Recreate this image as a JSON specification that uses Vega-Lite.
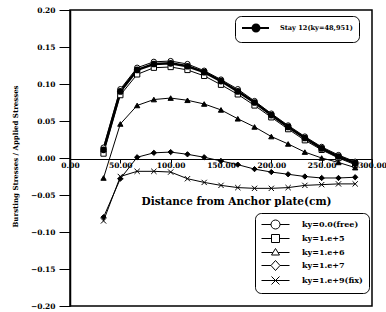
{
  "$schema": "https://vega.github.io/schema/vega-lite/v6.json",
  "width": 302,
  "height": 296,
  "autosize": "none",
  "padding": {"left": 70, "top": 10, "right": 14, "bottom": 6},
  "background": "white",
  "config": {
    "view": {"stroke": "black", "strokeWidth": 1.5},
    "axis": {
      "grid": false,
      "labelFont": "DejaVu Serif",
      "labelFontWeight": "bold",
      "labelFontSize": 7.5,
      "labelColor": "black",
      "titleFont": "DejaVu Serif",
      "titleFontWeight": "bold",
      "titleColor": "black",
      "domainColor": "black",
      "tickColor": "black"
    },
    "legend": {
      "labelFont": "DejaVu Serif",
      "labelFontWeight": "bold",
      "labelFontSize": 7.5,
      "labelColor": "black",
      "strokeColor": "black",
      "cornerRadius": 6,
      "fillColor": "white"
    }
  },
  "data": {
    "values": [
      {"s": "ky=0.0(free)", "x": 33.3, "y": 0.014},
      {"s": "ky=0.0(free)", "x": 50, "y": 0.093},
      {"s": "ky=0.0(free)", "x": 66.7, "y": 0.122},
      {"s": "ky=0.0(free)", "x": 83.3, "y": 0.130},
      {"s": "ky=0.0(free)", "x": 100, "y": 0.131},
      {"s": "ky=0.0(free)", "x": 116.7, "y": 0.127},
      {"s": "ky=0.0(free)", "x": 133.3, "y": 0.118},
      {"s": "ky=0.0(free)", "x": 150, "y": 0.106},
      {"s": "ky=0.0(free)", "x": 166.7, "y": 0.093},
      {"s": "ky=0.0(free)", "x": 183.3, "y": 0.077},
      {"s": "ky=0.0(free)", "x": 200, "y": 0.060},
      {"s": "ky=0.0(free)", "x": 216.7, "y": 0.044},
      {"s": "ky=0.0(free)", "x": 233.3, "y": 0.029},
      {"s": "ky=0.0(free)", "x": 250, "y": 0.015},
      {"s": "ky=0.0(free)", "x": 266.7, "y": 0.004},
      {"s": "ky=0.0(free)", "x": 283.3, "y": -0.005},
      {"s": "ky=1.e+5", "x": 33.3, "y": 0.006},
      {"s": "ky=1.e+5", "x": 50, "y": 0.085},
      {"s": "ky=1.e+5", "x": 66.7, "y": 0.113},
      {"s": "ky=1.e+5", "x": 83.3, "y": 0.122},
      {"s": "ky=1.e+5", "x": 100, "y": 0.123},
      {"s": "ky=1.e+5", "x": 116.7, "y": 0.119},
      {"s": "ky=1.e+5", "x": 133.3, "y": 0.111},
      {"s": "ky=1.e+5", "x": 150, "y": 0.099},
      {"s": "ky=1.e+5", "x": 166.7, "y": 0.086},
      {"s": "ky=1.e+5", "x": 183.3, "y": 0.071},
      {"s": "ky=1.e+5", "x": 200, "y": 0.055},
      {"s": "ky=1.e+5", "x": 216.7, "y": 0.039},
      {"s": "ky=1.e+5", "x": 233.3, "y": 0.024},
      {"s": "ky=1.e+5", "x": 250, "y": 0.011},
      {"s": "ky=1.e+5", "x": 266.7, "y": 0.000},
      {"s": "ky=1.e+5", "x": 283.3, "y": -0.009},
      {"s": "ky=1.e+6", "x": 33.3, "y": -0.027},
      {"s": "ky=1.e+6", "x": 50, "y": 0.046},
      {"s": "ky=1.e+6", "x": 66.7, "y": 0.071},
      {"s": "ky=1.e+6", "x": 83.3, "y": 0.079},
      {"s": "ky=1.e+6", "x": 100, "y": 0.081},
      {"s": "ky=1.e+6", "x": 116.7, "y": 0.078},
      {"s": "ky=1.e+6", "x": 133.3, "y": 0.073},
      {"s": "ky=1.e+6", "x": 150, "y": 0.065},
      {"s": "ky=1.e+6", "x": 166.7, "y": 0.053},
      {"s": "ky=1.e+6", "x": 183.3, "y": 0.042},
      {"s": "ky=1.e+6", "x": 200, "y": 0.029},
      {"s": "ky=1.e+6", "x": 216.7, "y": 0.019},
      {"s": "ky=1.e+6", "x": 233.3, "y": 0.008},
      {"s": "ky=1.e+6", "x": 250, "y": 0.000},
      {"s": "ky=1.e+6", "x": 266.7, "y": -0.006},
      {"s": "ky=1.e+6", "x": 283.3, "y": -0.013},
      {"s": "ky=1.e+7", "x": 33.3, "y": -0.080},
      {"s": "ky=1.e+7", "x": 50, "y": -0.028},
      {"s": "ky=1.e+7", "x": 66.7, "y": 0.001},
      {"s": "ky=1.e+7", "x": 83.3, "y": 0.007},
      {"s": "ky=1.e+7", "x": 100, "y": 0.008},
      {"s": "ky=1.e+7", "x": 116.7, "y": 0.005},
      {"s": "ky=1.e+7", "x": 133.3, "y": 0.001},
      {"s": "ky=1.e+7", "x": 150, "y": -0.004},
      {"s": "ky=1.e+7", "x": 166.7, "y": -0.009},
      {"s": "ky=1.e+7", "x": 183.3, "y": -0.015},
      {"s": "ky=1.e+7", "x": 200, "y": -0.019},
      {"s": "ky=1.e+7", "x": 216.7, "y": -0.022},
      {"s": "ky=1.e+7", "x": 233.3, "y": -0.025},
      {"s": "ky=1.e+7", "x": 250, "y": -0.027},
      {"s": "ky=1.e+7", "x": 266.7, "y": -0.027},
      {"s": "ky=1.e+7", "x": 283.3, "y": -0.026},
      {"s": "ky=1.e+9(fix)", "x": 33.3, "y": -0.085},
      {"s": "ky=1.e+9(fix)", "x": 50, "y": -0.025},
      {"s": "ky=1.e+9(fix)", "x": 66.7, "y": -0.018},
      {"s": "ky=1.e+9(fix)", "x": 83.3, "y": -0.018},
      {"s": "ky=1.e+9(fix)", "x": 100, "y": -0.019},
      {"s": "ky=1.e+9(fix)", "x": 116.7, "y": -0.028},
      {"s": "ky=1.e+9(fix)", "x": 133.3, "y": -0.033},
      {"s": "ky=1.e+9(fix)", "x": 150, "y": -0.037},
      {"s": "ky=1.e+9(fix)", "x": 166.7, "y": -0.040},
      {"s": "ky=1.e+9(fix)", "x": 183.3, "y": -0.041},
      {"s": "ky=1.e+9(fix)", "x": 200, "y": -0.041},
      {"s": "ky=1.e+9(fix)", "x": 216.7, "y": -0.040},
      {"s": "ky=1.e+9(fix)", "x": 233.3, "y": -0.037},
      {"s": "ky=1.e+9(fix)", "x": 250, "y": -0.036},
      {"s": "ky=1.e+9(fix)", "x": 266.7, "y": -0.035},
      {"s": "ky=1.e+9(fix)", "x": 283.3, "y": -0.035},
      {"s": "Stay 12(ky=48,951)", "x": 33.3, "y": 0.011},
      {"s": "Stay 12(ky=48,951)", "x": 50, "y": 0.090},
      {"s": "Stay 12(ky=48,951)", "x": 66.7, "y": 0.119},
      {"s": "Stay 12(ky=48,951)", "x": 83.3, "y": 0.127},
      {"s": "Stay 12(ky=48,951)", "x": 100, "y": 0.128},
      {"s": "Stay 12(ky=48,951)", "x": 116.7, "y": 0.124},
      {"s": "Stay 12(ky=48,951)", "x": 133.3, "y": 0.116},
      {"s": "Stay 12(ky=48,951)", "x": 150, "y": 0.104},
      {"s": "Stay 12(ky=48,951)", "x": 166.7, "y": 0.090},
      {"s": "Stay 12(ky=48,951)", "x": 183.3, "y": 0.075},
      {"s": "Stay 12(ky=48,951)", "x": 200, "y": 0.058},
      {"s": "Stay 12(ky=48,951)", "x": 216.7, "y": 0.042},
      {"s": "Stay 12(ky=48,951)", "x": 233.3, "y": 0.027},
      {"s": "Stay 12(ky=48,951)", "x": 250, "y": 0.013},
      {"s": "Stay 12(ky=48,951)", "x": 266.7, "y": 0.002},
      {"s": "Stay 12(ky=48,951)", "x": 283.3, "y": -0.007}
    ]
  },
  "encoding": {
    "x": {
      "field": "x",
      "type": "quantitative",
      "scale": {"domain": [0, 300], "nice": false, "zero": false},
      "axis": {
        "values": [0, 50, 100, 150, 200, 250, 300],
        "format": ".2f",
        "offset": -147,
        "tickSize": 4,
        "labelPadding": -2,
        "labelFlush": false,
        "labelOverlap": false,
        "labelBound": false,
        "domainWidth": 1,
        "title": "Distance from Anchor plate(cm)",
        "titleFontSize": 10.5,
        "titleX": 166,
        "titleY": 42,
        "titleBaseline": "middle",
        "titleAlign": "center"
      }
    },
    "y": {
      "field": "y",
      "type": "quantitative",
      "scale": {"domain": [-0.2, 0.2], "nice": false, "zero": false},
      "axis": {
        "values": [-0.2, -0.15, -0.1, -0.05, 0, 0.05, 0.1, 0.15, 0.2],
        "format": ".2f",
        "tickSize": 11,
        "labelPadding": 4,
        "domainWidth": 1.5,
        "labelFlush": false,
        "title": "Bursting Stresses / Applied Stresses",
        "titleFontSize": 7,
        "titleX": -55,
        "titleY": 146,
        "titleBaseline": "middle",
        "titleAlign": "center"
      }
    }
  },
  "layer": [
    {
      "transform": [{"filter": "datum.s !== 'Stay 12(ky=48,951)'"}],
      "mark": {"type": "line", "color": "black", "strokeWidth": 1},
      "encoding": {"detail": {"field": "s", "type": "nominal"}}
    },
    {
      "transform": [{"filter": "datum.s === 'Stay 12(ky=48,951)'"}],
      "mark": {"type": "line", "color": "black", "strokeWidth": 2.5},
      "encoding": {}
    },
    {
      "transform": [{"filter": "datum.s !== 'Stay 12(ky=48,951)'"}],
      "mark": {"type": "point", "filled": true, "stroke": "black", "strokeWidth": 1, "size": 28, "opacity": 1},
      "encoding": {
        "shape": {
          "field": "s",
          "type": "nominal",
          "scale": {
            "domain": ["ky=0.0(free)", "ky=1.e+5", "ky=1.e+6", "ky=1.e+7", "ky=1.e+9(fix)"],
            "range": ["circle", "square", "triangle-up", "diamond", "M-1,-1L1,1M-1,1L1,-1"]
          },
          "legend": null
        },
        "fill": {
          "condition": {"test": "datum.s === 'ky=1.e+6' || datum.s === 'ky=1.e+7'", "value": "black"},
          "value": "white"
        }
      }
    },
    {
      "transform": [{"filter": "datum.s === 'Stay 12(ky=48,951)'"}],
      "mark": {"type": "point", "shape": "circle", "filled": true, "color": "black", "size": 45, "opacity": 1},
      "encoding": {}
    },
    {
      "transform": [{"filter": "datum.s !== 'Stay 12(ky=48,951)'"}],
      "mark": {"type": "point", "filled": false, "color": "black", "opacity": 0},
      "encoding": {
        "shape": {
          "field": "s",
          "type": "nominal",
          "scale": {
            "domain": ["ky=0.0(free)", "ky=1.e+5", "ky=1.e+6", "ky=1.e+7", "ky=1.e+9(fix)"],
            "range": [
              "M-1,0H0.9M2.7,0H4.6M0.9,0A0.9,0.9,0,1,0,2.7,0A0.9,0.9,0,1,0,0.9,0",
              "M-1,0H1M2.6,0H4.6M1,-0.8H2.6V0.8H1Z",
              "M-1,0H1.25M2.35,0H4.6M1,0.5L1.8,-0.8L2.6,0.5Z",
              "M-1,0H0.9M2.7,0H4.6M0.9,0L1.8,-1L2.7,0L1.8,1Z",
              "M-1,0H4.6M1,-0.8L2.6,0.8M1,0.8L2.6,-0.8"
            ]
          },
          "legend": {
            "title": null,
            "orient": "none",
            "legendX": 185,
            "legendY": 203,
            "padding": 6,
            "rowPadding": 1,
            "symbolSize": 100,
            "labelOffset": 30,
            "labelFontSize": 8,
            "symbolStrokeColor": "black",
            "symbolStrokeWidth": 1,
            "symbolOpacity": 1,
            "encode": {
              "symbols": {
                "update": {
                  "stroke": {"value": "black"},
                  "strokeWidth": {"value": 1},
                  "opacity": {"value": 1},
                  "strokeOpacity": {"value": 1}
                }
              }
            }
          }
        }
      }
    },
    {
      "transform": [{"filter": "datum.s === 'Stay 12(ky=48,951)'"}],
      "mark": {"type": "point", "filled": true, "color": "black", "opacity": 0},
      "encoding": {
        "shape": {
          "field": "s",
          "type": "nominal",
          "scale": {
            "domain": ["Stay 12(ky=48,951)"],
            "range": ["M-1,-0.22V0.22H4.4V-0.22ZM0.9,0A0.9,0.9,0,1,0,2.7,0A0.9,0.9,0,1,0,0.9,0Z"]
          },
          "legend": {
            "title": null,
            "orient": "none",
            "legendX": 165,
            "legendY": 6,
            "padding": 6,
            "symbolSize": 100,
            "labelOffset": 27,
            "labelFontSize": 6.6,
            "symbolFillColor": "black",
            "symbolOpacity": 1,
            "encode": {
              "symbols": {
                "update": {
                  "fill": {"value": "black"},
                  "opacity": {"value": 1},
                  "fillOpacity": {"value": 1}
                }
              }
            }
          }
        }
      }
    }
  ],
  "resolve": {"scale": {"shape": "independent"}, "legend": {"shape": "independent"}}
}
